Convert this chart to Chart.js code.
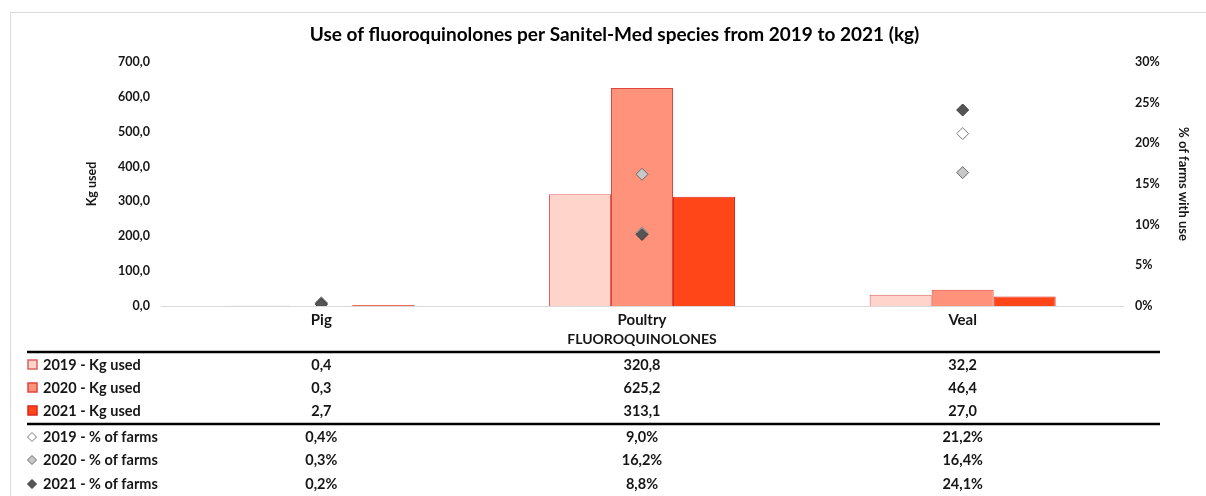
<!DOCTYPE html>
<html>
<head>
<meta charset="utf-8">
<script src="https://cdn.jsdelivr.net/npm/chart.js@4/dist/chart.umd.min.js"></script>
<style>
html,body{margin:0;padding:0;background:#fff;}
#wrap{position:absolute;left:0;top:0;width:1206px;height:496px;}
</style>
</head>
<body>
<div id="wrap"><canvas id="c" width="1206" height="496"></canvas></div>
<script>
const categories = ['Pig', 'Poultry', 'Veal'];
const groupLabel = 'FLUOROQUINOLONES';
const chartTitle = 'Use of fluoroquinolones per Sanitel-Med species from 2019 to 2021 (kg)';
const kg2019 = [0.4, 320.8, 32.2];
const kg2020 = [0.3, 625.2, 46.4];
const kg2021 = [2.7, 313.1, 27.0];
const pct2019 = [0.4, 9.0, 21.2];
const pct2020 = [0.3, 16.2, 16.4];
const pct2021 = [0.2, 8.8, 24.1];
const seriesLabels = ['2019 - Kg used', '2020 - Kg used', '2021 - Kg used', '2019 - % of farms', '2020 - % of farms', '2021 - % of farms'];
const kgTicks = [0, 100, 200, 300, 400, 500, 600, 700];
const pctTicks = [0, 5, 10, 15, 20, 25, 30];

const FONT = 'Lato, "Open Sans", sans-serif';
const TXT = '#161616';

const barFill = ['rgb(255,213,203)', 'rgb(255,146,122)', 'rgb(255,70,25)'];
const barBorder = ['rgb(224,96,96)', 'rgb(224,70,60)', 'rgb(220,40,30)'];
const dmFill = ['#ffffff', '#c8c8c8', '#555555'];
const dmBorder = ['#7a7a7a', '#6a6a6a', '#3a3a3a'];

const fmt = (v) => v.toFixed(1).replace('.', ',');

const tablePlugin = {
  id: 'tablePlugin',
  beforeDraw(chart) {
    const ctx = chart.ctx;
    ctx.save();
    ctx.strokeStyle = '#d9d9d9';
    ctx.lineWidth = 1;
    ctx.strokeRect(10.5, 12.5, 1210, 500);
    ctx.restore();
  },
  afterDraw(chart) {
    const ctx = chart.ctx;
    const x = chart.scales.x;
    const area = chart.chartArea;
    ctx.save();
    ctx.textBaseline = 'middle';
    ctx.textAlign = 'center';
    ctx.fillStyle = '#000';
    ctx.font = 'bold 19px ' + FONT;
    ctx.fillText(chartTitle, 614.5, 35);

    ctx.fillStyle = TXT;
    ctx.font = 'bold 14px ' + FONT;
    ctx.fillText(groupLabel, (area.left + area.right) / 2, 339);

    ctx.strokeStyle = '#000';
    ctx.lineWidth = 2.5;
    [352, 424].forEach(yy => {
      ctx.beginPath(); ctx.moveTo(27, yy); ctx.lineTo(1160, yy); ctx.stroke();
    });

    const rows = [kg2019, kg2020, kg2021, pct2019, pct2020, pct2021];
    const ys = [365, 388, 411, 437, 460, 484];
    rows.forEach((arr, r) => {
      const y = ys[r];
      if (r < 3) {
        ctx.lineWidth = 1.5;
        ctx.fillStyle = barFill[r];
        ctx.strokeStyle = barBorder[r];
        ctx.fillRect(28, y - 5, 9, 9);
        ctx.strokeRect(28, y - 5, 9, 9);
      } else {
        const k = r - 3;
        ctx.lineWidth = 1;
        ctx.fillStyle = dmFill[k];
        ctx.strokeStyle = dmBorder[k];
        ctx.beginPath();
        ctx.moveTo(32, y - 4.5); ctx.lineTo(36.5, y); ctx.lineTo(32, y + 4.5); ctx.lineTo(27.5, y); ctx.closePath();
        ctx.fill(); ctx.stroke();
      }
      ctx.fillStyle = TXT;
      ctx.font = 'bold 14.5px ' + FONT;
      ctx.textAlign = 'left';
      ctx.fillText(seriesLabels[r], 43, y);
      ctx.textAlign = 'center';
      arr.forEach((v, i) => {
        ctx.fillText(fmt(v) + (r >= 3 ? '%' : ''), x.getPixelForValue(i), y);
      });
    });
    ctx.restore();
  }
};

const barDs = [kg2019, kg2020, kg2021].map((d, i) => ({
  type: 'bar', label: seriesLabels[i], data: d, yAxisID: 'y',
  backgroundColor: barFill[i], borderColor: barBorder[i], borderWidth: 1,
  categoryPercentage: 0.58, barPercentage: 1.0, order: 5
}));
const ptDs = [pct2019, pct2020, pct2021].map((d, i) => ({
  type: 'line', label: seriesLabels[i + 3], data: d, yAxisID: 'y1', showLine: false,
  pointStyle: 'rectRot', pointRadius: 6, pointHoverRadius: 6,
  backgroundColor: dmFill[i], borderColor: dmBorder[i], pointBorderWidth: 1, order: 2 - i
}));

new Chart(document.getElementById('c'), {
  type: 'bar',
  data: { labels: categories, datasets: [...barDs, ...ptDs] },
  options: {
    responsive: false,
    animation: false,
    layout: { padding: { top: 62, left: 0, right: 0, bottom: 0 } },
    plugins: {
      legend: { display: false },
      tooltip: { enabled: false },
      title: { display: false }
    },
    scales: {
      x: {
        grid: { display: false, drawTicks: false, tickLength: 0 },
        border: { display: true, color: '#d9d9d9', width: 1 },
        ticks: { color: TXT, font: { family: FONT, size: 15, weight: 'bold' }, padding: 5 },
        afterFit(s) { s.height = 190; }
      },
      y: {
        position: 'left', min: 0, max: 700,
        afterBuildTicks(s) { s.ticks = kgTicks.map(v => ({ value: v })); },
        grid: { display: false, drawTicks: false, tickLength: 0 },
        border: { display: false },
        ticks: { color: TXT, font: { family: FONT, size: 12.5, weight: 'bold' }, padding: 11, callback: v => fmt(v) },
        title: { display: true, text: 'Kg used', color: TXT, font: { family: FONT, size: 12.5, weight: 'bold', lineHeight: 1.2 }, padding: { top: 84, bottom: 0 } },
        afterFit(s) { s.width = 161; }
      },
      y1: {
        position: 'right', min: 0, max: 30,
        afterBuildTicks(s) { s.ticks = pctTicks.map(v => ({ value: v })); },
        grid: { display: false, drawTicks: false, tickLength: 0 },
        border: { display: false },
        ticks: { color: TXT, font: { family: FONT, size: 12.5, weight: 'bold' }, padding: 12, callback: v => v + '%' },
        title: { display: true, text: '% of farms with use', color: TXT, font: { family: FONT, size: 13, weight: 'bold', lineHeight: 1.2 }, padding: { top: 15, bottom: 0 } },
        afterFit(s) { s.width = 83; }
      }
    }
  },
  plugins: [tablePlugin]
});
</script>
</body>
</html>
